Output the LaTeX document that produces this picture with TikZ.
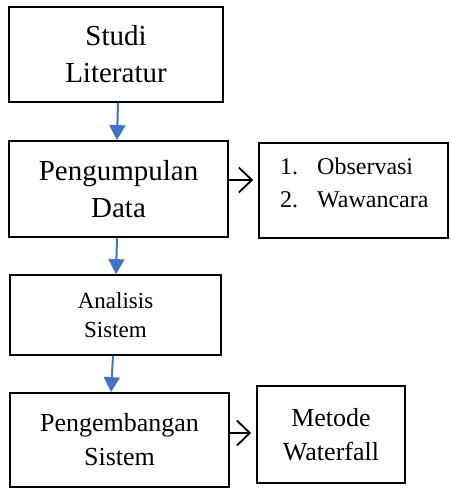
\documentclass[tikz,border=0pt]{standalone}
\usepackage{fontspec}
\setmainfont{Liberation Serif}
\usetikzlibrary{arrows.meta,calc}
\definecolor{flowblue}{HTML}{4472C4}
\tikzset{
  box/.style={draw=black, line width=1.7pt, inner sep=0pt, align=center},
  bigtext/.style={font=\fontsize{29}{37}\selectfont},
  midtext/.style={font=\fontsize{26}{34}\selectfont},
  smalltext/.style={font=\fontsize{23}{29}\selectfont},
  listtext/.style={font=\fontsize{24}{34}\selectfont},
  bluearrow/.style={draw=flowblue, line width=2pt, -{Triangle[length=15pt,width=16pt]}},
  blackarrow/.style={draw=black, line width=1.8pt, -{Straight Barb[length=13pt,width=25pt,line width=1.8pt]}, shorten >=5pt}
}
\begin{document}
\begin{tikzpicture}[x=1pt,y=-1pt]
\useasboundingbox (0,0) rectangle (450,489);
\node[box, bigtext, minimum width=214pt, minimum height=95pt] (b1) at (116,54.5) {Studi\\Literatur};
\node[box, bigtext, minimum width=219pt, minimum height=96pt] (b2) at (118.5,189) {Pengumpulan\\Data};
\node[box, minimum width=189pt, minimum height=95pt] (b3) at (353.5,190.5) {};
\node[listtext, anchor=west, inner sep=0pt] (l1) at (280,166) {1.\hspace{19pt}Observasi};
\node[listtext, anchor=west, inner sep=0pt] (l2) at (280,200) {2.\hspace{19pt}Wawancara};
\node[box, smalltext, minimum width=211pt, minimum height=80pt] (b4) at (115.5,315) {Analisis\\Sistem};
\node[box, midtext, minimum width=219pt, minimum height=94pt] (b5) at (119.5,440) {Pengembangan\\Sistem};
\node[box, midtext, minimum width=148pt, minimum height=97pt] (b6) at (331,434.5) {Metode\\Waterfall};
\draw[bluearrow] ([xshift=2pt]b1.south) -- ([xshift=-1.5pt]b2.north);
\draw[bluearrow] ([xshift=-1.5pt]b2.south) -- ([xshift=0.5pt]b4.north);
\draw[bluearrow] ([xshift=-2.5pt]b4.south) -- ([xshift=-8.5pt]b5.north);
\draw[blackarrow] ([yshift=9pt]b2.east) -- ([yshift=9pt]b2.east -| b3.west);
\draw[blackarrow] ([yshift=7pt]b5.east) -- ([yshift=7pt]b5.east -| b6.west);
\end{tikzpicture}
\end{document}
